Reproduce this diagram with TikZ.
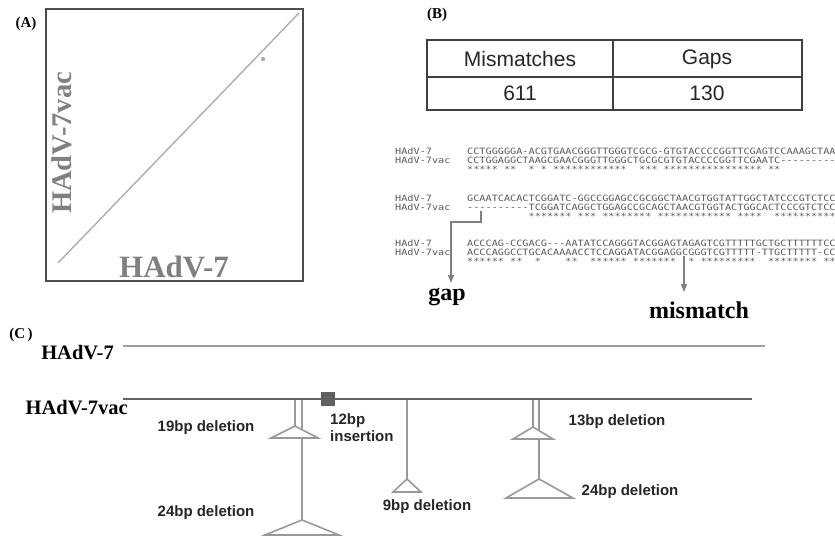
\documentclass[tikz,border=0pt]{standalone}
\usepackage{fontspec}
\setmainfont{Liberation Serif}
\newfontfamily\sansf{Liberation Sans}
\newfontfamily\monof{DejaVu Sans Mono}
\usetikzlibrary{arrows.meta}
\definecolor{boxgray}{gray}{0.3}
\definecolor{labgray}{gray}{0.5}
\definecolor{diaggray}{gray}{0.68}
\definecolor{seqgray}{gray}{0.35}
\definecolor{delgray}{gray}{0.6}
\definecolor{vacline}{gray}{0.38}
\definecolor{refline}{gray}{0.62}
\tikzset{
  panel/.style={font=\bfseries\fontsize{15}{15}\selectfont, inner sep=0},
  biglab/.style={font=\bfseries\fontsize{30}{30}\selectfont, text=labgray, inner sep=0},
  tabtxt/.style={font=\sansf\fontsize{21}{21}\selectfont, text=black!85, inner sep=0},
  seq/.style={font=\monof\fontsize{10.2}{10.2}\selectfont, text=seqgray, anchor=west, inner sep=0, yscale=0.85},
  callout/.style={font=\bfseries\fontsize{24}{24}\selectfont, inner sep=0},
  clab/.style={font=\bfseries\fontsize{20.5}{20.5}\selectfont, inner sep=0, anchor=east},
  ann/.style={font=\sansf\bfseries\fontsize{15}{15}\selectfont, text=black!85, inner sep=0},
  arr/.style={draw=gray, line width=1.2pt, -{Triangle[width=6pt,length=8pt]}, color=gray},
  delline/.style={draw=delgray, line width=1.6pt},
  deltri/.style={draw=delgray, line width=1.6pt, fill=white, line join=miter},
}
\begin{document}
\begin{tikzpicture}[x=1pt,y=-1pt]
\useasboundingbox (0,0) rectangle (835,537);
% ---------- Panel A ----------
\node[panel] (lA) at (26,24) {(A)};
\draw[boxgray, line width=2pt] (46,9) rectangle (303,281);
\coordinate (d1) at (58,263);
\coordinate (d2) at (299,13);
\draw[diaggray, line width=1.4pt] (d1) -- (d2);
\fill[diaggray] (263,59) circle (2.2);
\node[biglab, rotate=90, font=\bfseries\fontsize{28.5}{28.5}\selectfont] (ylab) at (62,143) {HAdV-7vac};
\node[biglab, font=\bfseries\fontsize{31}{31}\selectfont] (xlab) at (174,267) {HAdV-7};
% ---------- Panel B ----------
\node[panel] (lB) at (437,15) {(B)};
\draw[black!75, line width=2pt] (427,40) rectangle (802,110);
\draw[black!75, line width=1.3pt] (427,77) -- (802,77);
\draw[black!75, line width=1.3pt] (613,40) -- (613,110);
\node[tabtxt] (mm) at (520,59) {Mismatches};
\node[tabtxt] (gp) at (707,59) {Gaps};
\node[tabtxt] (mmv) at (520,93) {611};
\node[tabtxt] (gpv) at (707,93) {130};
% alignment block 1
\node[seq] (n11) at (395,151) {HAdV-7};
\node[seq] (n12) at (395,160) {HAdV-7vac};
\node[seq] (s11) at (467,151) {CCTGGGGGA-ACGTGAACGGGTTGGGTCGCG-GTGTACCCCGGTTCGAGTCCAAAGCTAA};
\node[seq] (s12) at (467,160) {CCTGGAGGCTAAGCGAACGGGTTGGGCTGCGCGTGTACCCCGGTTCGAATC---------};
\node[seq] (s13) at (467,169) {*****\ **\ \ *\ *\ ************\ \ ***\ ****************\ **};
% alignment block 2
\node[seq] (n21) at (395,198) {HAdV-7};
\node[seq] (n22) at (395,207) {HAdV-7vac};
\node[seq] (s21) at (467,198) {GCAATCACACTCGGATC-GGCCGGAGCCGCGGCTAACGTGGTATTGGCTATCCCGTCTCC};
\node[seq] (s22) at (467,207) {----------TCGGATCAGGCTGGAGCCGCAGCTAACGTGGTACTGGCACTCCCGTCTCC};
\node[seq] (s23) at (467,216) {\ \ \ \ \ \ \ \ \ \ *******\ ***\ ********\ ************\ ****\ \ **********};
% alignment block 3
\node[seq] (n31) at (395,243) {HAdV-7};
\node[seq] (n32) at (395,252) {HAdV-7vac};
\node[seq] (s31) at (467,243) {ACCCAG-CCGACG---AATATCCAGGGTACGGAGTAGAGTCGTTTTTGCTGCTTTTTTCC};
\node[seq] (s32) at (467,252) {ACCCAGGCCTGCACAAAACCTCCAGGATACGGAGGCGGGTCGTTTTT-TTGCTTTTT-CC};
\node[seq] (s33) at (467,261) {******\ **\ \ *\ \ \ \ **\ \ ******\ *******\ \ *\ *********\ \ ********\ **};
% callouts
\node[callout] (gap) at (447,297) {gap};
\node[callout] (mis) at (699,310) {mismatch};
\coordinate (g0) at (481,211);
\coordinate (g1) at (481,222);
\coordinate (g2) at (451,283);
\draw[arr] (g0) -- (g1) -| (g2);
\coordinate (m0) at (684,256);
\coordinate (m1) at (684,292);
\draw[arr] (m0) -- (m1);
% ---------- Panel C ----------
\node[panel] (lC) at (21,335) {(C\,)};
\node[clab] (h7) at (114,353) {HAdV-7};
\node[clab] (h7v) at (128,408) {HAdV-7vac};
\coordinate (t0) at (123,346);
\coordinate (t1) at (765,346);
\draw[refline, line width=2pt] (t0) -- (t1);
\coordinate (b0) at (123,399);
\coordinate (b1) at (752,399);
\draw[vacline, line width=2pt] (b0) -- (b1);
\node[draw=none, fill=gray!75!black, minimum size=14pt, inner sep=0] (ins) at (328,399) {};
% deletion 19bp + 24bp
\draw[delline] (295,400) -- (295,426);
\draw[delline] (302,400) -- (302,520);
\draw[deltri] (295,426) -- (318,438) -- (271,438) -- cycle;
\draw[delline] (302,438) -- (302,520);
\draw[deltri] (302,520) -- (339,535) -- (265,535) -- cycle;
% deletion 9bp
\draw[delline] (407,400) -- (407,479);
\draw[deltri] (407,479) -- (421,492) -- (393,492) -- cycle;
% deletion 13bp + 24bp
\draw[delline] (533,400) -- (533,427);
\draw[delline] (539,400) -- (539,479);
\draw[deltri] (533,427) -- (553,439) -- (513,439) -- cycle;
\draw[delline] (539,439) -- (539,479);
\draw[deltri] (539,479) -- (573,498) -- (506,498) -- cycle;
% labels
\node[ann] (l19) at (206,428) {19bp deletion};
\node[ann, anchor=base west] (l12a) at (330,424) {12bp};
\node[ann, anchor=base west] (l12b) at (330,441) {insertion};
\node[ann] (l24a) at (206,513) {24bp deletion};
\node[ann] (l9) at (427,507) {9bp deletion};
\node[ann] (l13) at (617,422) {13bp deletion};
\node[ann] (l24b) at (630,492) {24bp deletion};
\end{tikzpicture}
\end{document}
